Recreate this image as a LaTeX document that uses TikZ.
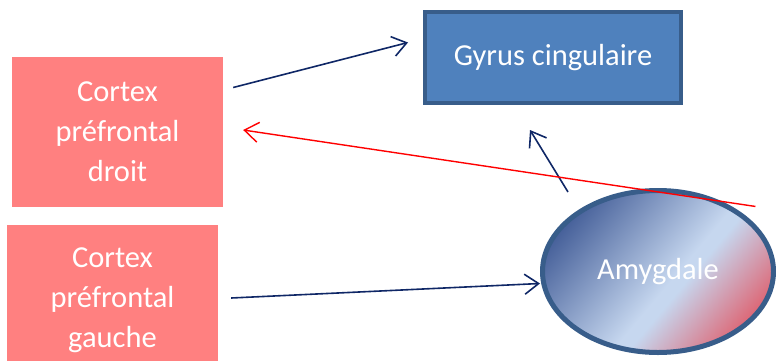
\documentclass[tikz,border=0pt]{standalone}
\usepackage{fontspec}
\setmainfont{Carlito}
\usepackage{tikz}
\usetikzlibrary{shapes,arrows.meta}
\definecolor{cpink}{HTML}{FF8080}
\definecolor{gfill}{HTML}{4F81BD}
\definecolor{gline}{HTML}{385D8A}
\definecolor{navy}{HTML}{0F2766}
\definecolor{amydark}{HTML}{2A4687}
\definecolor{amylight}{HTML}{C6D7EF}
\definecolor{amyred}{HTML}{E8333D}
\pgfdeclarehorizontalshading{amyshade}{100bp}{color(0bp)=(amydark); color(18bp)=(amydark); color(54bp)=(amylight); color(57bp)=(amylight); color(84bp)=(amyred); color(100bp)=(amyred)}
\tikzset{
	cortex/.style = {fill=cpink, text=white, inner sep=0pt, align=center,
		minimum width=211pt, minimum height=150pt},
	gyrus/.style  = {draw=gline, fill=gfill, text=white, line width=4pt,
		minimum width=256pt, minimum height=91pt},
	amyg/.style   = {ellipse, draw=gline, line width=5pt, inner sep=0pt, text=white,
		shade, shading=amyshade, shading angle=-40,
		minimum width=231pt, minimum height=162pt},
	link/.style   = {->, navy, line width=1.6pt},
	retro/.style  = {->, red, line width=1.4pt}
}

\begin{document}
\begin{tikzpicture}[x=1pt, y=1pt, >={Straight Barb[length=14pt,width=20pt]},
	font=\fontsize{30.5}{40}\selectfont]
\useasboundingbox (0,0) rectangle (776,360);
\draw
node at (117.5,228.5) [cortex] (cpd) {Cortex\\préfrontal\\droit}
node at (112.5,60) [cortex] (cpg) {Cortex\\préfrontal\\gauche}
node at (553,302.5) [gyrus] (gyr) {Gyrus cingulaire}
node at (658,88.5) [amyg] (amy) {Amygdale};

\draw[link]([xshift=10pt,yshift=44pt]cpd.east)--([xshift=-15pt,yshift=15pt]gyr.west);
\draw[link]([xshift=-90pt,yshift=-4pt]amy.north)--([xshift=-23pt,yshift=-25pt]gyr.south);
\draw[link]([xshift=13pt,yshift=2pt]cpg.east)--([yshift=-12pt]amy.west);
\draw[retro]([xshift=14pt,yshift=6pt]amy.north east)--([xshift=20pt,yshift=1.5pt]cpd.east);
\end{tikzpicture}
\end{document}
